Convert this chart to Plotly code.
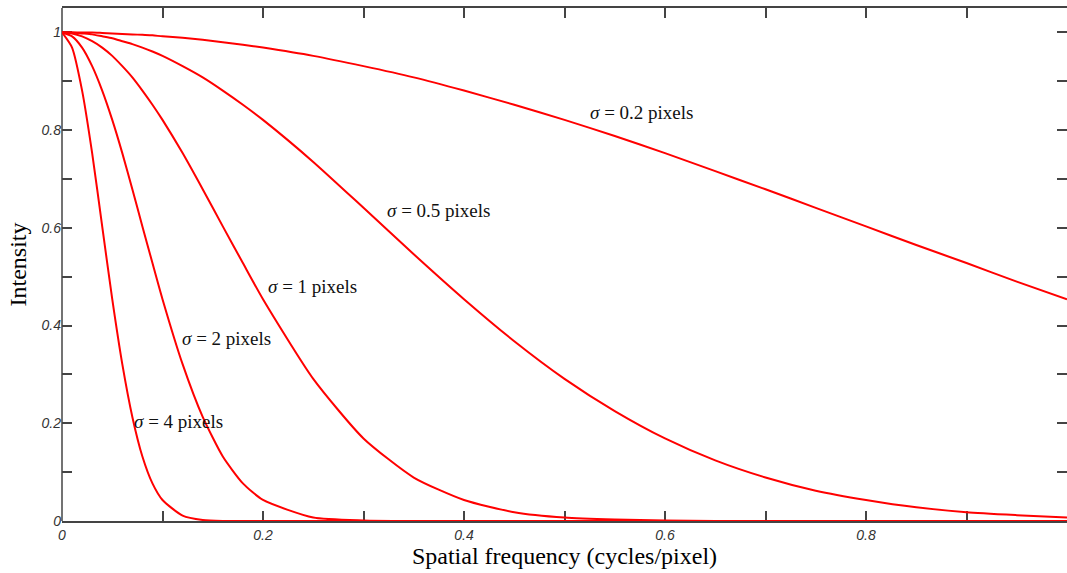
import plotly.graph_objects as go

# Spatial frequency samples (cycles/pixel)
freq = [0, 0.01, 0.02, 0.03, 0.04, 0.05, 0.06, 0.07, 0.08, 0.09, 0.10,
        0.12, 0.14, 0.16, 0.18, 0.20, 0.25, 0.30, 0.35, 0.40, 0.45, 0.50,
        0.55, 0.60, 0.65, 0.70, 0.75, 0.80, 0.85, 0.90, 0.95, 1.00]

# Intensity of each blur width at those frequencies
mtf_s02 = [1, 1.000, 1.000, 1.000, 0.999, 0.998, 0.997, 0.996, 0.995, 0.994, 0.992,
           0.989, 0.985, 0.980, 0.975, 0.969, 0.952, 0.931, 0.908, 0.881, 0.852, 0.821,
           0.788, 0.753, 0.716, 0.679, 0.641, 0.603, 0.565, 0.528, 0.490, 0.454]
mtf_s05 = [1, 1.000, 0.998, 0.996, 0.992, 0.988, 0.982, 0.976, 0.969, 0.961, 0.952,
           0.931, 0.908, 0.881, 0.852, 0.821, 0.735, 0.641, 0.546, 0.454, 0.368, 0.291,
           0.225, 0.169, 0.124, 0.089, 0.062, 0.043, 0.028, 0.018, 0.012, 0.007]
mtf_s1 = [1, 0.998, 0.992, 0.982, 0.969, 0.952, 0.931, 0.908, 0.881, 0.852, 0.821,
          0.753, 0.679, 0.603, 0.528, 0.454, 0.291, 0.169, 0.089, 0.043, 0.018, 0.007,
          0.003, 0.001, 0.000, 0, 0, 0, 0, 0, 0, 0]
mtf_s2 = [1, 0.992, 0.969, 0.931, 0.881, 0.821, 0.753, 0.679, 0.603, 0.528, 0.454,
          0.321, 0.213, 0.132, 0.077, 0.043, 0.007, 0.001, 0, 0, 0, 0,
          0, 0, 0, 0, 0, 0, 0, 0, 0, 0]
mtf_s4 = [1, 0.969, 0.881, 0.753, 0.603, 0.454, 0.321, 0.213, 0.132, 0.077, 0.043,
          0.011, 0.002, 0.000, 0, 0, 0, 0, 0, 0, 0, 0,
          0, 0, 0, 0, 0, 0, 0, 0, 0, 0]

series = [mtf_s02, mtf_s05, mtf_s1, mtf_s2, mtf_s4]
labels = ["0.2", "0.5", "1", "2", "4"]

# Label anchor points (frequency, intensity)
label_x = [0.523, 0.321, 0.203, 0.117, 0.070]
label_y = [0.837, 0.636, 0.479, 0.373, 0.203]

x_ticks = [round(0.1 * i, 1) for i in range(11)]
x_ticktext = ["0", "", "0.2", "", "0.4", "", "0.6", "", "0.8", "", ""]
y_ticks = [round(0.1 * i, 1) for i in range(11)]
y_ticktext = ["0", "", "0.2", "", "0.4", "", "0.6", "", "0.8", "", "1"]

AXIS_GREY = "#444444"

fig = go.Figure()
for vals in series:
    fig.add_trace(go.Scatter(
        x=freq, y=vals, mode="lines",
        line=dict(color="#ff0000", width=2, shape="spline", smoothing=0.6),
        showlegend=False, hoverinfo="skip",
    ))

for lab, lx, ly in zip(labels, label_x, label_y):
    fig.add_annotation(
        x=lx, y=ly, xref="x", yref="y",
        text=f"<i>σ</i> = {lab} pixels",
        showarrow=False, xanchor="left", yanchor="middle",
        font=dict(family="Liberation Serif", size=19, color="#111111"),
    )

tick_common = dict(
    showgrid=False, zeroline=False,
    ticks="inside", ticklen=10, tickwidth=1.5, tickcolor=AXIS_GREY,
    tickfont=dict(family="Liberation Sans", size=14, color="#333333", style="italic"),
    layer="below traces",
)

fig.update_xaxes(
    range=[0, 1.0], tickmode="array", tickvals=x_ticks, ticktext=x_ticktext,
    showline=True, linecolor=AXIS_GREY, linewidth=1.5, mirror="ticks",
    title=dict(text="Spatial frequency (cycles/pixel)", standoff=4,
               font=dict(family="Liberation Serif", size=24, color="#000000")),
    **tick_common,
)
# left frame edge drawn as a shape so the right edge stays open
fig.update_yaxes(
    range=[0, 1.05], tickmode="array", tickvals=y_ticks, ticktext=y_ticktext,
    showline=False, mirror="ticks",
    title=dict(text="Intensity", standoff=8,
               font=dict(family="Liberation Serif", size=24, color="#000000")),
    **tick_common,
)
fig.add_shape(type="line", xref="paper", yref="paper", x0=0, x1=0, y0=0, y1=1,
              line=dict(color=AXIS_GREY, width=1.5), layer="below")

fig.update_layout(
    width=1067, height=573,
    margin=dict(l=62, r=0, t=8, b=52),
    paper_bgcolor="white", plot_bgcolor="white",
)

fig.write_html("out.html")
